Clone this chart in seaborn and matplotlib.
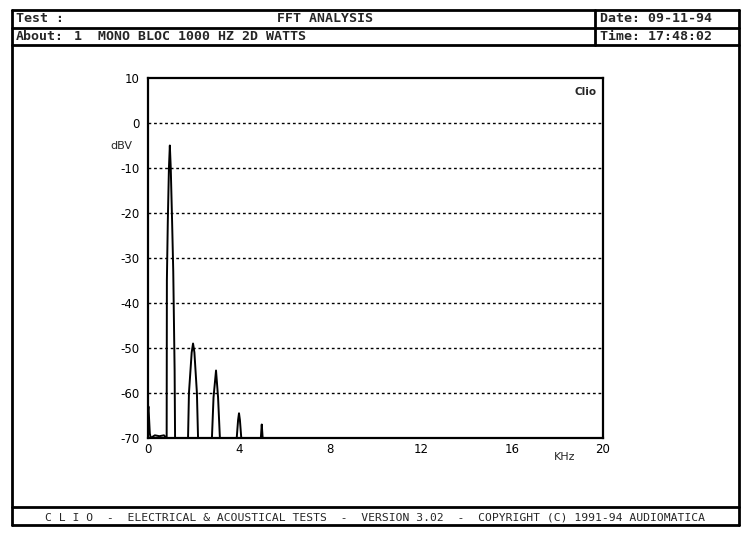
import numpy as np
import pandas as pd
import seaborn as sns
import matplotlib.pyplot as plt
from matplotlib.lines import Line2D

# spectrum (kHz, dBV)
freq = [0.0, 0.02, 0.05, 0.08, 0.12, 0.3, 0.5, 0.7, 0.8,
        0.82, 0.83, 0.87, 0.92, 0.96, 1.00, 1.06, 1.11, 1.17, 1.19,
        1.4, 1.76, 1.80, 1.92, 1.98, 2.04, 2.15, 2.20,
        2.5, 2.81, 2.88, 2.99, 3.08, 3.16,
        3.6, 3.90, 3.96, 4.00, 4.04, 4.10,
        4.6, 4.96, 5.00, 5.04, 6.0, 20.0]
level = [-64, -63, -66, -69, -70, -69.4, -69.6, -69.4, -70,
         -70, -35, -22, -10, -5, -10, -22, -33, -55, -70,
         -70, -70, -60, -51, -49, -51, -60, -70,
         -70, -70, -61, -55, -61, -70,
         -70, -70, -66, -64.5, -66, -70,
         -70, -70, -67, -70, -70, -70]

yticks = [10, 0, -10, -20, -30, -40, -50, -60, -70]
xticks = [0, 4, 8, 12, 16, 20]
grid_levels = [0, -10, -20, -30, -40, -50, -60]

header_left = ["Test :", "About:"]
header_mid = ["FFT ANALYSIS", "1  MONO BLOC 1000 HZ 2D WATTS"]
header_right = ["Date: 09-11-94", "Time: 17:48:02"]
footer = "C L I O  -  ELECTRICAL & ACOUSTICAL TESTS  -  VERSION 3.02  -  COPYRIGHT (C) 1991-94 AUDIOMATICA"

df = pd.DataFrame({"kHz": freq, "dBV": level})

sns.set_style("white")
plt.rcParams['font.family'] = ['DejaVu Sans']
plt.rcParams['axes.unicode_minus'] = False

W, H = 750, 535
fig = plt.figure(figsize=(7.5, 5.35), dpi=100)
fig.patch.set_facecolor("white")


def fx(x):
    return x / W


def fy(y):
    return 1 - y / H


ax = fig.add_axes([fx(148), fy(438), fx(603) - fx(148), fy(78) - fy(438)])
sns.lineplot(data=df, x="kHz", y="dBV", color="black", linewidth=1.4, ax=ax, sort=False)

ax.set_xlim(0, 20)
ax.set_ylim(-70, 10)
ax.set_xticks(xticks)
ax.set_yticks(yticks)
ax.set_xlabel("")
ax.set_ylabel("")
for g in grid_levels:
    ax.axhline(g, color="black", linestyle=(0, (2, 2)), linewidth=1.0, zorder=0)
for s in ax.spines.values():
    s.set_color("black")
    s.set_linewidth(1.6)
ax.tick_params(axis="both", direction="in", length=3, width=1.2, labelsize=8.5, colors="black")
ax.tick_params(axis="y", pad=6)
ax.text(-0.035, 0.812, "dBV", transform=ax.transAxes, ha="right", va="center", fontsize=8)
ax.text(0.915, -0.04, "KHz", transform=ax.transAxes, ha="center", va="top", fontsize=8)
ax.text(0.985, 0.975, "Clio", transform=ax.transAxes, ha="right", va="top", fontsize=7.5,
        fontweight="bold")

# page frame
lw = 2.0
lines = [
    ((12, 12), (10, 525)), ((739, 739), (10, 525)),
    ((12, 739), (10, 10)), ((12, 739), (28, 28)), ((12, 739), (45, 45)),
    ((595, 595), (10, 45)),
    ((12, 739), (507, 507)), ((12, 739), (525, 525)),
]
for xs, ys in lines:
    fig.add_artist(Line2D([fx(v) for v in xs], [fy(v) for v in ys],
                          color="black", linewidth=lw, transform=fig.transFigure))

hfont = dict(family="DejaVu Sans Mono", fontweight="bold", fontsize=9.5, va="center")
fig.text(fx(16), fy(19), header_left[0], ha="left", **hfont)
fig.text(fx(16), fy(37), header_left[1], ha="left", **hfont)
fig.text(fx(325), fy(19), header_mid[0], ha="center", **hfont)
fig.text(fx(74), fy(37), header_mid[1], ha="left", **hfont)
fig.text(fx(600), fy(19), header_right[0], ha="left", **hfont)
fig.text(fx(600), fy(37), header_right[1], ha="left", **hfont)
fig.text(fx(375), fy(517), footer, ha="center", va="center", fontsize=8.2,
         family="DejaVu Sans Mono")

fig.savefig("out.png", dpi=100, facecolor="white")
